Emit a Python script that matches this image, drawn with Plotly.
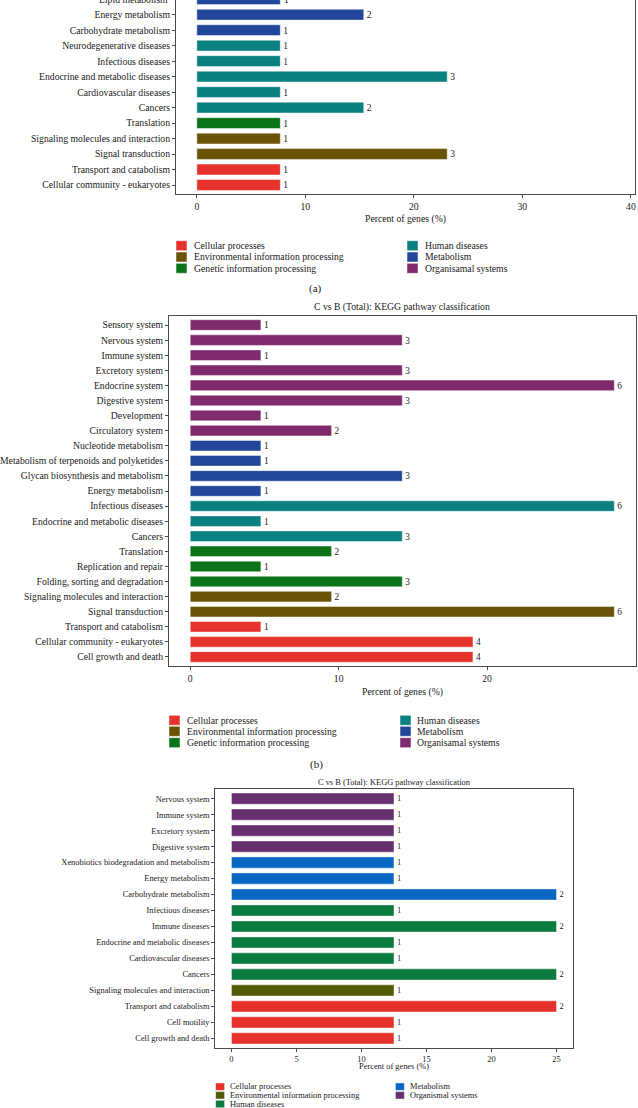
import plotly.graph_objects as go

W, H = 638, 1108
FONT = "Liberation Serif"

# ---------------- data ----------------
# panel (a): categories listed top -> bottom (top row is cut off in the reference)
a_cats = ["Lipid metabolism", "Energy metabolism", "Carbohydrate metabolism",
          "Neurodegenerative diseases", "Infectious diseases",
          "Endocrine and metabolic diseases", "Cardiovascular diseases", "Cancers",
          "Translation", "Signaling molecules and interaction", "Signal transduction",
          "Transport and catabolism", "Cellular community - eukaryotes"]
a_counts = [1, 2, 1, 1, 1, 3, 1, 2, 1, 1, 3, 1, 1]
a_groups = ["Metabolism", "Metabolism", "Metabolism",
            "Human diseases", "Human diseases", "Human diseases", "Human diseases", "Human diseases",
            "Genetic information processing", "Environmental information processing",
            "Environmental information processing", "Cellular processes", "Cellular processes"]
a_total = 13

b_cats = ["Sensory system", "Nervous system", "Immune system", "Excretory system",
          "Endocrine system", "Digestive system", "Development", "Circulatory system",
          "Nucleotide metabolism", "Metabolism of terpenoids and polyketides",
          "Glycan biosynthesis and metabolism", "Energy metabolism", "Infectious diseases",
          "Endocrine and metabolic diseases", "Cancers", "Translation",
          "Replication and repair", "Folding, sorting and degradation",
          "Signaling molecules and interaction", "Signal transduction",
          "Transport and catabolism", "Cellular community - eukaryotes",
          "Cell growth and death"]
b_counts = [1, 3, 1, 3, 6, 3, 1, 2, 1, 1, 3, 1, 6, 1, 3, 2, 1, 3, 2, 6, 1, 4, 4]
b_groups = ["Organismal systems"] * 8 + ["Metabolism"] * 4 + ["Human diseases"] * 3 + \
           ["Genetic information processing"] * 3 + ["Environmental information processing"] * 2 + \
           ["Cellular processes"] * 3
b_total = 21

c_cats = ["Nervous system", "Immune system", "Excretory system", "Digestive system",
          "Xenobiotics biodegradation and metabolism", "Energy metabolism",
          "Carbohydrate metabolism", "Infectious diseases", "Immune diseases",
          "Endocrine and metabolic diseases", "Cardiovascular diseases", "Cancers",
          "Signaling molecules and interaction", "Transport and catabolism",
          "Cell motility", "Cell growth and death"]
c_counts = [1, 1, 1, 1, 1, 1, 2, 1, 2, 1, 1, 2, 1, 2, 1, 1]
c_groups = ["Organismal systems"] * 4 + ["Metabolism"] * 3 + ["Human diseases"] * 5 + \
           ["Environmental information processing"] + ["Cellular processes"] * 3
c_total = 8

ab_colors = {"Cellular processes": "#E5322C",
             "Environmental information processing": "#6A5206",
             "Genetic information processing": "#0B7419",
             "Human diseases": "#0A8080",
             "Metabolism": "#22479A",
             "Organismal systems": "#7E2A6C"}
c_colors = {"Cellular processes": "#E5322C",
            "Environmental information processing": "#535B08",
            "Human diseases": "#0B7A3E",
            "Metabolism": "#0A67C4",
            "Organismal systems": "#66306E"}

a_legend = [["Cellular processes", "Environmental information processing", "Genetic information processing"],
            ["Human diseases", "Metabolism", "Organisamal systems"]]
a_legend_keys = [["Cellular processes", "Environmental information processing", "Genetic information processing"],
                 ["Human diseases", "Metabolism", "Organismal systems"]]
c_legend = [["Cellular processes", "Environmental information processing", "Human diseases"],
            ["Metabolism", "Organismal systems"]]

title_text = "C vs B (Total): KEGG pathway classification"
xtitle = "Percent of genes (%)"

FS_AB = 9.7
FS_C = 8.4


def px(x):
    return x / W


def py(y):
    return 1 - y / H


fig = go.Figure()

panels = [
    # cats, counts, groups, total, colors, axis suffix, font size
    (a_cats, a_counts, a_groups, a_total, ab_colors, "", FS_AB),
    (b_cats, b_counts, b_groups, b_total, ab_colors, "2", FS_AB),
    (c_cats, c_counts, c_groups, c_total, c_colors, "3", FS_C),
]

for cats, counts, groups, total, cols, sfx, fs in panels:
    fig.add_trace(go.Bar(
        y=cats, x=[c / total * 100 for c in counts], orientation="h",
        marker=dict(color=[cols[g] for g in groups],
                    line=dict(color="rgba(255,255,255,0.45)", width=1)),
        width=0.7, text=[str(c) for c in counts], textposition="outside",
        textfont=dict(family=FONT, size=fs, color="#222"),
        cliponaxis=False, showlegend=False, hoverinfo="skip",
        xaxis="x" + sfx, yaxis="y" + sfx))

axcommon = dict(showline=True, linecolor="#4a4a4a", linewidth=1,
                ticks="outside", ticklen=3, tickcolor="#4a4a4a", showgrid=False,
                zeroline=False, automargin=False, ticklabeloverflow="allow",
                tickfont=dict(family=FONT, color="#222"))

a_n = len(a_cats)
fig.update_layout(
    xaxis=dict(domain=[px(176), px(635)], range=[-1.92, 40.38], anchor="y",
               tickvals=[0, 10, 20, 30, 40], mirror=False, **axcommon, tickfont_size=FS_AB),
    yaxis=dict(domain=[py(194.3), 1], range=[a_n - 1 + 0.6, 0.052], anchor="x",
               type="category", categoryorder="array", categoryarray=a_cats,
               mirror=True, **axcommon, tickfont_size=FS_AB),
    xaxis2=dict(domain=[px(169), px(635.5)], range=[-1.43, 30.0], anchor="y2",
                tickvals=[0, 10, 20], mirror=True, **axcommon, tickfont_size=FS_AB),
    yaxis2=dict(domain=[py(666), py(316)], range=[len(b_cats) - 1 + 0.6, -0.6], anchor="x2",
                type="category", categoryorder="array", categoryarray=b_cats,
                mirror=True, **axcommon, tickfont_size=FS_AB),
    xaxis3=dict(domain=[px(215.2), px(572.8)], range=[-1.25, 26.25], anchor="y3",
                tickvals=[0, 5, 10, 15, 20, 25], mirror=True, **axcommon, tickfont_size=FS_C),
    yaxis3=dict(domain=[py(1048), py(789)], range=[len(c_cats) - 1 + 0.6, -0.6], anchor="x3",
                type="category", categoryorder="array", categoryarray=c_cats,
                mirror=True, **axcommon, tickfont_size=FS_C),
)

ann = []
shapes = []


def add_text(x, y, text, size, anchor="center"):
    ann.append(dict(x=px(x), y=py(y), xref="paper", yref="paper", text=text,
                    showarrow=False, xanchor=anchor, yanchor="middle",
                    font=dict(family=FONT, size=size, color="#222")))


def add_legend(columns, keys, colors, col_sw_x, col_tx_x, rows_y, sw_w, sw_h, size):
    for ci, col in enumerate(columns):
        for ri, label in enumerate(col):
            key = keys[ci][ri]
            y = rows_y[ri]
            shapes.append(dict(type="rect", xref="paper", yref="paper",
                               x0=px(col_sw_x[ci]), x1=px(col_sw_x[ci] + sw_w),
                               y0=py(y + sw_h / 2), y1=py(y - sw_h / 2),
                               fillcolor=colors[key], line=dict(color="rgba(255,255,255,0.5)", width=1)))
            add_text(col_tx_x[ci], y, label, size, anchor="left")


# cut-off top row of panel (a): its label and value text sit above the page edge
add_text(170, -0.8, a_cats[0], FS_AB, anchor="right")
add_text(282, -0.8, str(a_counts[0]), FS_AB, anchor="left")

# panel (a)
add_text(405.5, 219, xtitle, FS_AB)
add_legend(a_legend, a_legend_keys, ab_colors, [176, 407], [192, 423], [245.7, 257, 268.3], 11, 10, FS_AB)
add_text(315, 289, "(a)", 11)

# panel (b)
add_text(402, 307.3, title_text, FS_AB)
add_text(402, 691.7, xtitle, FS_AB)
add_legend(a_legend, a_legend_keys, ab_colors, [169, 400], [185, 415], [720.3, 731.3, 742.7], 11, 10, FS_AB)
add_text(316.5, 764, "(b)", 11)

# panel (c)
add_text(394, 782.3, title_text, FS_C)
add_text(394, 1066.7, xtitle, FS_C)
add_legend(c_legend, c_legend, c_colors, [215.6, 395.4], [227.8, 408], [1086.7, 1095.3, 1104], 9, 7.5, FS_C)

fig.update_layout(width=W, height=H, margin=dict(l=0, r=0, t=0, b=0, autoexpand=False),
                  paper_bgcolor="white", plot_bgcolor="white",
                  annotations=ann, shapes=shapes, bargap=0.3,
                  font=dict(family=FONT, color="#222"))

fig.write_html("out.html", config={"displayModeBar": False},
               post_script="document.body.style.margin='0';document.body.style.overflow='hidden';")
